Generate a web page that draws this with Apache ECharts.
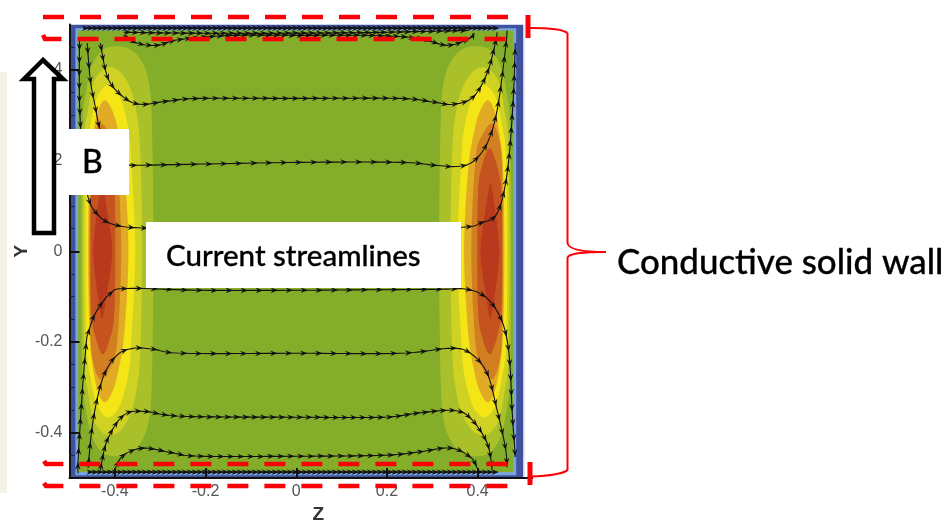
<!DOCTYPE html>
<html><head><meta charset="utf-8">
<style>html,body{margin:0;padding:0;background:#fff}#c{width:949px;height:520px}</style>
<script src="https://cdn.jsdelivr.net/npm/echarts@6/dist/echarts.min.js"></script>
</head><body><div id="c"></div>
<script>
// ---- axis values
const xTickValues = [-0.4, -0.2, 0, 0.2, 0.4];
const yTickValues = [-0.4, -0.2, 0, 0.2, 0.4];
const yMinorValues = [-0.45, -0.35, -0.3, -0.25, -0.15, -0.1, -0.05, 0.05, 0.1, 0.15, 0.25, 0.3, 0.35, 0.45];

// ---- wall bands: [zMin, zMax, yMin, yMax]
const wallOuter = [-0.5, 0.5, -0.5, 0.5];
const wallInner = [-0.487, 0.485, -0.494, 0.492];
const coreRegion = [-0.481, 0.478, -0.487, 0.487];

// ---- contour levels: upper-left quadrant outline [z, y]
const levelOlive = [[-.474,0],[-.472,.267],[-.463,.355],[-.450,.410],[-.428,.443],[-.399,.452],[-.366,.445],[-.340,.417],[-.324,.366],[-.318,.267],[-.315,0]];
const levelLime = [[-.470,0],[-.467,.245],[-.459,.311],[-.448,.370],[-.428,.399],[-.408,.406],[-.386,.393],[-.366,.359],[-.353,.311],[-.344,.223],[-.340,0]];
const levelYellow = [[-.465,0],[-.463,.201],[-.454,.278],[-.439,.340],[-.417,.366],[-.395,.351],[-.379,.311],[-.368,.256],[-.364,.201],[-.355,0]];
const levelAmber = [[-.459,0],[-.456,.179],[-.450,.245],[-.439,.304],[-.423,.333],[-.406,.311],[-.393,.267],[-.379,.179],[-.370,0]];
const levelOrange = [[-.456,0],[-.454,.179],[-.448,.245],[-.432,.282],[-.410,.256],[-.395,.201],[-.386,0]];
const levelRust = [[-.454,0],[-.453,.112],[-.448,.168],[-.428,.227],[-.410,.190],[-.401,.135],[-.399,0]];
const levelRed = [[-.448,0],[-.443,.057],[-.437,.101],[-.428,.150],[-.419,.101],[-.410,.046],[-.406,0]];

// ---- current streamlines [z, y], in flow direction
const streamA = [[-.478,.465],[-.478,.333],[-.472,.223],[-.459,.119],[-.432,.075],[-.395,.057],[-.331,.051],[-.2,.05],[.2,.05],[.366,.053],[.406,.062],[.443,.084],[.465,.172],[.478,.326],[.483,.459]];
const streamB = [[-.461,.459],[-.454,.377],[-.443,.318],[-.434,.273],[-.415,.223],[-.393,.196],[-.366,.190],[-.322,.190],[.009,.196],[.229,.196],[.302,.190],[.355,.187],[.390,.198],[.421,.238],[.443,.311],[.461,.443],[.465,.487]];
const streamC = [[-.432,.459],[-.415,.381],[-.381,.340],[-.344,.324],[-.284,.331],[-.212,.337],[.009,.337],[.229,.337],[.302,.329],[.346,.324],[.390,.340],[.421,.393],[.439,.459],[.443,.483]];
const streamD = [[-.381,.476],[-.351,.459],[-.307,.454],[-.256,.467],[-.139,.476],[.009,.476],[.157,.476],[.267,.470],[.333,.454],[.384,.470],[.39,.481]];
const streamE = [[-.381,.483],[-.249,.481],[.009,.481],[.2,.483],[.38,.487]];
const streamF = [[-.47,.492],[.44,.492]];
const streamG = [[-.481,-.490],[-.481,-.461],[-.472,-.313],[-.463,-.203],[-.459,-.181],[-.443,-.137],[-.410,-.093],[-.373,-.082],[-.212,-.086],[.009,-.086],[.302,-.084],[.377,-.084],[.421,-.104],[.450,-.146],[.465,-.196],[.472,-.262],[.476,-.351],[.483,-.454]];
const streamH = [[-.459,-.478],[-.448,-.373],[-.426,-.278],[-.395,-.229],[-.359,-.214],[-.315,-.216],[-.249,-.225],[.009,-.225],[.229,-.225],[.340,-.214],[.384,-.225],[.421,-.269],[.443,-.351],[.461,-.432],[.465,-.476]];
const streamI = [[-.432,-.483],[-.417,-.417],[-.381,-.362],[-.337,-.353],[-.249,-.364],[.009,-.366],[.192,-.366],[.267,-.357],[.346,-.351],[.384,-.368],[.421,-.423],[.432,-.483]];
const streamJ = [[-.399,-.478],[-.381,-.450],[-.337,-.434],[-.271,-.445],[-.212,-.452],[.009,-.452],[.192,-.450],[.267,-.443],[.340,-.434],[.384,-.454],[.399,-.478]];
const streamK = [[-.46,-.487],[.44,-.487]];

// ---- styling, kept apart from the values
const levelStyles = [
  [levelOlive,'#a9c02a'],[levelLime,'#cfd223'],[levelYellow,'#f4e516'],[levelAmber,'#e2ab26'],
  [levelOrange,'#d27f22'],[levelRust,'#c5531f'],[levelRed,'#b8391c']];
const streamStyles = [
  [streamA,13],[streamB,15],[streamC,10],[streamD,8],[streamE,8],[streamF,5],
  [streamG,15],[streamH,15],[streamI,9],[streamJ,10],[streamK,5]];

function spline(pts, closed){
  const out=[], n=pts.length, seg=closed?n:n-1;
  const at=i=>closed?pts[(i+n)%n]:pts[Math.max(0,Math.min(n-1,i))];
  for(let i=0;i<seg;i++){
    const a=at(i-1),b=at(i),c=at(i+1),d=at(i+2);
    for(let k=0;k<10;k++){
      const t=k/10,t2=t*t,t3=t2*t;
      out.push([0,1].map(j=>.5*(2*b[j]+(c[j]-a[j])*t+(2*a[j]-5*b[j]+4*c[j]-d[j])*t2+(3*b[j]-a[j]-3*c[j]+d[j])*t3)));
    }
  }
  if(!closed) out.push(pts[n-1]);
  return out;
}
function rectSeries(b,color){
  return {type:'custom',coordinateSystem:'cartesian2d',z:2,silent:true,clip:true,data:[[b[0],b[2]]],
    renderItem:(p,api)=>{
      const a=api.coord([b[0],b[3]]),c=api.coord([b[1],b[2]]);
      return {type:'rect',shape:{x:a[0],y:a[1],width:c[0]-a[0],height:c[1]-a[1]},style:{fill:color}};
    }};
}
function lobeOutline(q,sz){
  const up=q.map(p=>[sz*p[0],p[1]]);
  const down=q.slice(1,-1).reverse().map(p=>[sz*p[0],-p[1]]);
  return up.concat(down);
}
function lobeSeries(q,sz,color){
  const pts=lobeOutline(q,sz);
  return {type:'custom',coordinateSystem:'cartesian2d',z:2,silent:true,clip:true,data:pts,
    renderItem:(p,api)=>{
      if(p.dataIndex!==0) return null;
      return {type:'polygon',shape:{points:spline(pts.map(v=>api.coord(v)),true)},style:{fill:color}};
    }};
}
function streamSeries(pts,gap){
  return {type:'custom',coordinateSystem:'cartesian2d',z:3,silent:true,clip:true,data:pts,
    renderItem:(p,api)=>{
      if(p.dataIndex!==0) return null;
      const path=spline(pts.map(v=>api.coord(v)),false);
      const children=[{type:'polyline',shape:{points:path},style:{stroke:'#111',lineWidth:1.1,fill:null}}];
      let next=gap*.5,len=0;
      for(let i=1;i<path.length;i++){
        const dx=path[i][0]-path[i-1][0],dy=path[i][1]-path[i-1][1],d=Math.hypot(dx,dy);
        if(!d) continue;
        while(len+d>=next){
          const t=(next-len)/d,x=path[i-1][0]+dx*t,y=path[i-1][1]+dy*t,ux=dx/d,uy=dy/d;
          const L=7.5,W=2.8;
          children.push({type:'polygon',shape:{points:[
            [x+ux*L*.5,y+uy*L*.5],
            [x-ux*L*.5-uy*W,y-uy*L*.5+ux*W],
            [x-ux*L*.15,y-uy*L*.15],
            [x-ux*L*.5+uy*W,y-uy*L*.5-ux*W]]},style:{fill:'#111'}});
          next+=gap;
        }
        len+=d;
      }
      return {type:'group',children};
    }};
}

const series=[
  rectSeries(wallOuter,'#40519f'),
  rectSeries(wallInner,'#78a6da'),
  rectSeries(coreRegion,'#84ae2a')
];
levelStyles.forEach(s=>{series.push(lobeSeries(s[0],1,s[1]));series.push(lobeSeries(s[0],-1,s[1]));});
streamStyles.forEach(s=>series.push(streamSeries(s[0],s[1])));

const RED='#fb0006';
function dash(points){return {type:'polyline',z:110,silent:true,shape:{points},style:{stroke:RED,lineWidth:4.5,lineDash:[21,16],fill:null,lineCap:'butt'}};}
function seg(x1,y1,x2,y2){return {type:'line',z:110,silent:true,shape:{x1,y1,x2,y2},style:{stroke:RED,lineWidth:2}};}
function bez(x1,y1,cpx1,cpy1,cpx2,cpy2,x2,y2){return {type:'bezierCurve',z:110,silent:true,shape:{x1,y1,cpx1,cpy1,cpx2,cpy2,x2,y2},style:{stroke:RED,lineWidth:2,fill:null}};}
const textFont='Lato';
function label(text,x,y,size){return {type:'text',z:106,silent:true,style:{text,x,y,fill:'#000',stroke:'#000',lineWidth:0.3,font:'500 '+size+'px '+textFont,textVerticalAlign:'middle'}};}
const graphic=[
  {type:'rect',z:90,silent:true,shape:{x:0,y:72,width:7,height:421},style:{fill:'#f4f1e6'}},
  {type:'rect',z:90,silent:true,shape:{x:523,y:25,width:1.5,height:453},style:{fill:'#cfd3ea'}},
  {type:'line',z:90,silent:true,shape:{x1:523,y1:478,x2:533,y2:478},style:{stroke:'#111',lineWidth:2}},
  {type:'rect',z:100,silent:true,shape:{x:68,y:129,width:61,height:66},style:{fill:'#fff'}},
  {type:'rect',z:100,silent:true,shape:{x:146,y:222,width:315,height:66},style:{fill:'#fff'}},
  {type:'polygon',z:105,silent:true,shape:{points:[[43,60],[24,79],[34,79],[34,233],[54,233],[54,79],[63,79]]},style:{fill:'#fff',stroke:'#000',lineWidth:4.5,lineJoin:'miter'}},
  label('B',82,163,32),
  label('Current streamlines',166,256,29.5),
  label('Conductive solid wall',617,263,34.9),
  dash([[43,17],[514,17]]),
  dash([[43,35],[45,39],[514,39]]),
  dash([[44,461],[46,464],[514,464]]),
  dash([[44,483],[46,486],[516,486]]),
  {type:'rect',z:110,silent:true,shape:{x:525.5,y:15,width:5,height:23},style:{fill:RED}},
  {type:'rect',z:110,silent:true,shape:{x:527.5,y:462,width:5,height:23},style:{fill:RED}},
  bez(530,28,550,28,564,30,567.5,33),
  seg(567.5,33,567.5,243),
  bez(567.5,243,568,248,578,252,606,252),
  bez(606,252,578,252,568,254,567.5,258),
  seg(567.5,258,567.5,470),
  bez(567.5,470,565,473,550,476,531,476.5)
];

const chart=echarts.init(document.getElementById('c'));
const labelStyle={color:'#555',fontFamily:'Liberation Sans',fontSize:16};
chart.setOption({
  animation:false,backgroundColor:'#fff',
  grid:{left:69.5,right:426,top:24.5,bottom:42,containLabel:false,outerBoundsMode:'none'},
  xAxis:{type:'value',min:-0.5,max:0.5,z:5,splitLine:{show:false},
    name:'Z',nameLocation:'middle',nameGap:22,
    nameTextStyle:{color:'#333',fontFamily:'Liberation Sans',fontWeight:'bold',fontSize:19,padding:[0,0,0,44]},
    axisLine:{show:true,onZero:false,lineStyle:{color:'#111',width:2}},
    axisTick:{show:true,inside:true,length:10,lineStyle:{color:'#111',width:2},customValues:xTickValues},
    axisLabel:{...labelStyle,margin:6,customValues:xTickValues}},
  yAxis:[
    {type:'value',min:-0.5,max:0.5,z:5,splitLine:{show:false},
     name:'Y',nameLocation:'middle',nameGap:35,
     nameTextStyle:{color:'#333',fontFamily:'Liberation Sans',fontWeight:'bold',fontSize:19},
     axisLine:{show:true,onZero:false,lineStyle:{color:'#111',width:2}},
     axisTick:{show:true,inside:true,length:10,lineStyle:{color:'#111',width:2},customValues:yTickValues},
     axisLabel:{...labelStyle,margin:7,customValues:yTickValues}},
    {type:'value',min:-0.5,max:0.5,position:'left',z:5,splitLine:{show:false},
     axisLine:{show:false,onZero:false},axisLabel:{show:false},
     axisTick:{show:true,inside:true,length:5,lineStyle:{color:'#223',width:1},customValues:yMinorValues}}
  ],
  series,graphic
});
</script></body></html>
